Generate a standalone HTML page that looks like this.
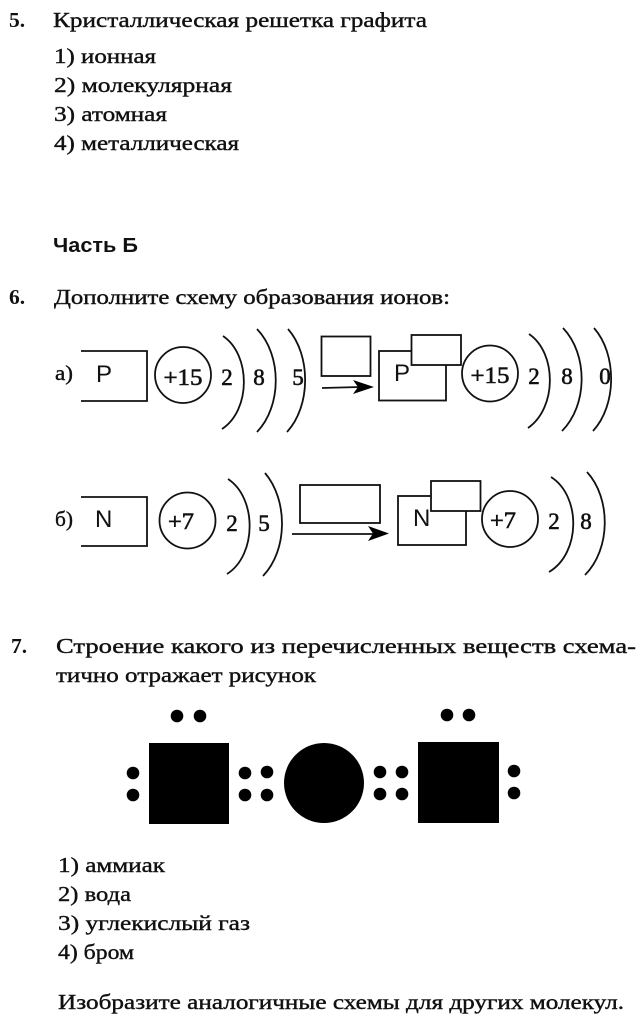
<!DOCTYPE html>
<html lang="ru">
<head>
<meta charset="utf-8">
<title>Химия</title>
<style>
html,body{margin:0;padding:0;background:#fff;width:641px;height:1024px;overflow:hidden}
svg{display:block}
text{font-family:"Liberation Serif","Noto Serif CJK SC",serif;font-size:21.5px;fill:#111;stroke:#111;stroke-width:.4}
.b{font-weight:bold;stroke:none}
.s{font-family:"Liberation Sans",sans-serif;font-size:24px;stroke:none}
.h{font-family:"Liberation Sans",sans-serif;font-size:20px;font-weight:bold;stroke:none}
.c{text-anchor:middle;font-size:23px;stroke-width:.6}
.l{fill:none;stroke:#111;stroke-width:1.8}
.w{fill:#fff;stroke:#111;stroke-width:1.8}
.k{fill:#000;stroke:none}
</style>
</head>
<body>
<svg width="641" height="1024" viewBox="0 0 641 1024" xmlns="http://www.w3.org/2000/svg">
<rect width="641" height="1024" fill="#fff"/>

<text class="b" x="9" y="27">5.</text>
<text x="53" y="27" textLength="374" lengthAdjust="spacingAndGlyphs">Кристаллическая решетка графита</text>
<text x="54" y="63" textLength="102" lengthAdjust="spacingAndGlyphs">1) ионная</text>
<text x="54" y="92" textLength="178" lengthAdjust="spacingAndGlyphs">2) молекулярная</text>
<text x="54" y="121" textLength="113" lengthAdjust="spacingAndGlyphs">3) атомная</text>
<text x="54" y="150" textLength="185" lengthAdjust="spacingAndGlyphs">4) металлическая</text>
<text class="h" x="53" y="252" textLength="85" lengthAdjust="spacingAndGlyphs">Часть Б</text>
<text class="b" x="9" y="304">6.</text>
<text x="54" y="304" textLength="396" lengthAdjust="spacingAndGlyphs">Дополните схему образования ионов:</text>

<!-- a -->
<text x="55" y="380" textLength="18" lengthAdjust="spacingAndGlyphs">а)</text>
<path class="l" d="M81 351H147V401H81"/>
<text class="s" x="96" y="382">P</text>
<circle class="l" cx="183" cy="375" r="28"/>
<text class="c" x="183" y="385" textLength="39" lengthAdjust="spacingAndGlyphs">+15</text>
<path class="l" d="M223 336C251 355 251 410 222 429"/>
<path class="l" d="M257 329C282 355 282 406 257 432"/>
<path class="l" d="M288 329C311 355 311 406 287 432"/>
<text class="c" x="227" y="385">2</text>
<text class="c" x="259" y="385">8</text>
<text class="c" x="298" y="385">5</text>
<rect class="w" x="321.500" y="336.500" width="49" height="39.500"/>
<path class="l" d="M322 388L360 387"/>
<path class="k" d="M374 387L353 380L358 387L353 394Z"/>
<rect class="w" x="379" y="351" width="67" height="49.500"/>
<text class="s" x="394" y="381">P</text>
<rect class="w" x="411.500" y="335" width="49.500" height="30"/>
<circle class="l" cx="490" cy="373.500" r="28"/>
<text class="c" x="490" y="383" textLength="39" lengthAdjust="spacingAndGlyphs">+15</text>
<path class="l" d="M529 334C557 353 557 408 528 428"/>
<path class="l" d="M563 328C588 354 588 405 562 431"/>
<path class="l" d="M594 328C617 354 617 405 593 431"/>
<text class="c" x="534" y="384">2</text>
<text class="c" x="567" y="384">8</text>
<text class="c" x="605" y="384">0</text>

<!-- b -->
<text x="55" y="526" textLength="18" lengthAdjust="spacingAndGlyphs">б)</text>
<path class="l" d="M81 497H147V546H81"/>
<text class="s" x="95" y="527">N</text>
<circle class="l" cx="187.500" cy="520.500" r="28"/>
<text class="c" x="181" y="529" textLength="26" lengthAdjust="spacingAndGlyphs">+7</text>
<path class="l" d="M228 479C257 498 257 555 227 574"/>
<path class="l" d="M265 473C288 500 288 550 263 576"/>
<text class="c" x="232" y="531">2</text>
<text class="c" x="264" y="531">5</text>
<rect class="w" x="300" y="485" width="80" height="38"/>
<path class="l" d="M292 534H375"/>
<path class="k" d="M389 533.500L368 526L373 533.500L368 541Z"/>
<rect class="w" x="398" y="496" width="68" height="49"/>
<text class="s" x="413" y="526">N</text>
<rect class="w" x="431" y="481" width="49.500" height="30"/>
<circle class="l" cx="510" cy="519" r="28"/>
<text class="c" x="503" y="528" textLength="26" lengthAdjust="spacingAndGlyphs">+7</text>
<path class="l" d="M551 477C581 496 581 553 549 572"/>
<path class="l" d="M587 472C611 498 611 549 585 575"/>
<text class="c" x="554" y="529">2</text>
<text class="c" x="586" y="529">8</text>

<!-- 7 -->
<text class="b" x="11" y="653">7.</text>
<text x="56" y="653" textLength="580" lengthAdjust="spacingAndGlyphs">Строение какого из перечисленных веществ схема-</text>
<text x="56" y="682" textLength="260" lengthAdjust="spacingAndGlyphs">тично отражает рисунок</text>

<g class="k">
<rect x="149" y="743" width="80" height="81"/>
<circle cx="324" cy="783" r="40"/>
<rect x="418" y="742" width="81" height="81"/>
<circle cx="177" cy="716" r="6.300"/><circle cx="200" cy="716" r="6.300"/>
<circle cx="133" cy="773" r="6.300"/><circle cx="133" cy="795" r="6.300"/>
<circle cx="245" cy="773" r="6.300"/><circle cx="267" cy="772" r="6.300"/>
<circle cx="245" cy="795" r="6.300"/><circle cx="267" cy="795" r="6.300"/>
<circle cx="380" cy="772" r="6.300"/><circle cx="402" cy="772" r="6.300"/>
<circle cx="380" cy="794" r="6.300"/><circle cx="402" cy="794" r="6.300"/>
<circle cx="514" cy="771" r="6.300"/><circle cx="514" cy="793" r="6.300"/>
<circle cx="447" cy="715" r="6.300"/><circle cx="469" cy="715" r="6.300"/>
</g>

<text x="58" y="872" textLength="107" lengthAdjust="spacingAndGlyphs">1) аммиак</text>
<text x="58" y="901" textLength="73" lengthAdjust="spacingAndGlyphs">2) вода</text>
<text x="58" y="930" textLength="192" lengthAdjust="spacingAndGlyphs">3) углекислый газ</text>
<text x="58" y="959" textLength="76" lengthAdjust="spacingAndGlyphs">4) бром</text>
<text x="58" y="1009" textLength="566" lengthAdjust="spacingAndGlyphs">Изобразите аналогичные схемы для других молекул.</text>
</svg>
</body>
</html>
